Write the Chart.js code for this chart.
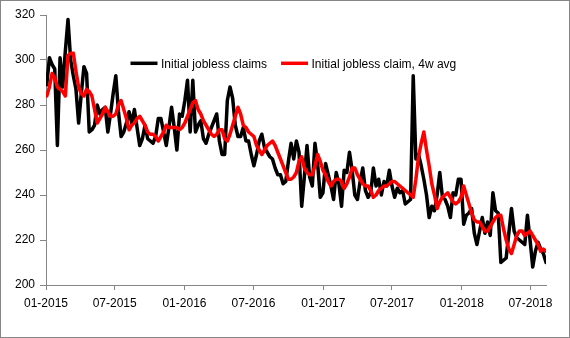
<!DOCTYPE html>
<html>
<head>
<meta charset="utf-8">
<script src="https://cdn.jsdelivr.net/npm/chart.js@4.4.1/dist/chart.umd.min.js"></script>
<style>
  html, body { margin: 0; padding: 0; background: #fff; }
  #wrap { width: 568px; height: 336px; border: 1px solid #868686; }
  canvas { display: block; }
</style>
</head>
<body>
<div id="wrap"><canvas id="chart" width="568" height="336"></canvas></div>
<script>
// weekly series, first week ending 2015-01-03
const firstWeek = '2015-01-03';

// Initial jobless claims (thousands)
const claims = [
  289, 301, 298, 296, 262, 301, 288, 304, 318, 300,
  293, 287, 272, 285, 297, 294, 268, 269, 271, 280,
  276, 278, 279, 268, 276, 285, 293, 277, 266, 268,
  272, 277, 272, 278, 270, 262, 265, 271, 265, 264,
  263, 266, 274, 274, 268, 262, 270, 279, 270, 260,
  276, 275, 282, 291, 268, 291, 268, 271, 273, 265,
  263, 267, 270, 273, 276, 264, 258, 258, 282, 288,
  283, 271, 266, 266, 270, 264, 264, 258, 253, 258,
  264, 267, 261, 259, 257, 256, 252, 249, 249, 245,
  246, 255, 263, 256, 264, 259, 235, 248, 262, 248,
  244, 263, 254, 239, 241, 254, 249, 244, 238, 250,
  245, 235, 251, 250, 259, 251, 240, 238, 246, 252,
  242, 239, 241, 252, 244, 247, 240, 246, 244, 251,
  244, 239, 243, 241, 242, 236, 237, 238, 293, 256,
  258, 253, 247, 240, 230, 235, 233, 240, 250, 239,
  238, 235, 230, 241, 240, 247, 247, 227, 231, 232,
  234, 223, 218, 224, 230, 223, 228, 222, 241, 233,
  232, 210, 211, 212, 223, 234, 224, 221, 220, 219,
  218, 231, 220, 208, 215, 219, 216, 214, 210
];

// Initial jobless claims, 4-week average (thousands)
const claims4w = [
  284, 288, 294, 292, 288, 287, 286, 284, 302, 303,
  303, 295, 288, 285, 284, 287, 286, 284, 278, 272,
  274, 276, 279, 277, 275, 275, 276, 280, 282, 278,
  274, 269, 271, 272, 274, 275, 273, 271, 268, 267,
  267, 266, 264, 266, 268, 271, 270, 270, 270, 270,
  269, 270, 272, 275, 278, 281, 282, 278, 276, 273,
  271, 269, 267, 266, 267, 269, 269, 265, 264, 267,
  271, 275, 279, 276, 271, 270, 268, 267, 266, 262,
  260, 258, 260, 262, 263, 264, 262, 259, 256, 253,
  250, 247, 247, 248, 250, 255, 257, 252, 250, 249,
  249, 253, 258, 255, 251, 249, 246, 244, 246, 247,
  247, 246, 243, 245, 248, 252, 252, 249, 247, 245,
  244, 244, 242, 239, 240, 242, 243, 244, 244, 245,
  246, 246, 245, 244, 243, 242, 241, 240, 239, 247,
  257, 263, 268, 260, 253, 245, 240, 234, 237, 239,
  240, 241, 239, 237, 236, 237, 239, 244, 240, 236,
  232, 229, 228, 228, 226, 224, 224, 226, 228, 230,
  231, 231, 225, 220, 216, 214, 218, 222, 224, 224,
  222, 223, 224, 222, 220, 218, 215, 216, 215, 214
];

const seriesNames = ['Initial jobless claims', 'Initial jobless claim, 4w avg'];
const seriesColors = ['#000000', '#ff0000'];

const tickDates = ['2015-01-01', '2015-07-01', '2016-01-01', '2016-07-01',
                   '2017-01-01', '2017-07-01', '2018-01-01', '2018-07-01'];
const tickLabels = ['01-2015', '07-2015', '01-2016', '07-2016',
                    '01-2017', '07-2017', '01-2018', '07-2018'];
const yTicks = [200, 220, 240, 260, 280, 300, 320];

// dates -> days since 2015-01-01 for the linear x scale
const DAY = 86400000;
const origin = Date.UTC(2015, 0, 1);
const dayOf = s => (Date.parse(s + 'T00:00:00Z') - origin) / DAY;
const start = dayOf(firstWeek);
const weekDays = claims.map((_, i) => start + 7 * i);
const tickDays = tickDates.map(dayOf);

const FONT = { family: '"Liberation Sans", Arial, sans-serif', size: 12 };
const AXIS = '#868686';

// legend drawn inside the plot, like the Excel original
const insideLegend = {
  id: 'insideLegend',
  afterDatasetsDraw(chart, args, opts) {
    const ctx = chart.ctx;
    ctx.save();
    ctx.font = FONT.size + 'px ' + FONT.family;
    ctx.textBaseline = 'middle';
    let x = opts.x;
    chart.data.datasets.forEach(ds => {
      ctx.strokeStyle = ds.borderColor;
      ctx.lineWidth = opts.lineWidth;
      ctx.beginPath();
      ctx.moveTo(x, opts.y);
      ctx.lineTo(x + opts.lineLen, opts.y);
      ctx.stroke();
      x += opts.lineLen + opts.gap;
      ctx.fillStyle = '#000';
      ctx.fillText(ds.label, x, opts.y + 1);
      x += ctx.measureText(ds.label).width + opts.itemGap;
    });
    ctx.restore();
  }
};

new Chart(document.getElementById('chart'), {
  type: 'line',
  data: {
    datasets: [
      {
        label: seriesNames[0],
        data: claims.map((v, i) => ({ x: weekDays[i], y: v })),
        borderColor: seriesColors[0],
        borderWidth: 3.5,
        order: 1
      },
      {
        label: seriesNames[1],
        data: claims4w.map((v, i) => ({ x: weekDays[i], y: v })),
        borderColor: seriesColors[1],
        borderWidth: 3.5,
        order: 0
      }
    ]
  },
  options: {
    responsive: false,
    animation: false,
    events: [],
    elements: {
      point: { radius: 0 },
      line: { tension: 0, borderJoinStyle: 'round', borderCapStyle: 'round' }
    },
    layout: { padding: { top: 14, right: 23, left: 0, bottom: 0 } },
    plugins: {
      legend: { display: false },
      tooltip: { enabled: false },
      insideLegend: { x: 129.5, y: 62.3, lineLen: 27, gap: 3.5, itemGap: 14, lineWidth: 3.5 }
    },
    scales: {
      x: {
        type: 'linear',
        min: 0,
        max: weekDays[weekDays.length - 1],
        afterBuildTicks: s => { s.ticks = tickDays.map(v => ({ value: v })); },
        afterFit: s => { s.height = 52; },
        ticks: {
          autoSkip: false, maxRotation: 0, padding: 6, color: '#000', font: FONT,
          callback: (v, i) => tickLabels[i]
        },
        grid: { drawOnChartArea: false, tickLength: 5, color: AXIS, tickColor: AXIS },
        border: { color: AXIS, width: 1 }
      },
      y: {
        min: 200,
        max: 320,
        afterBuildTicks: s => { s.ticks = yTicks.map(v => ({ value: v })); },
        afterFit: s => { s.width = 45; },
        ticks: { padding: 5, color: '#000', font: FONT },
        grid: { drawOnChartArea: false, tickLength: 6, color: AXIS, tickColor: AXIS },
        border: { color: AXIS, width: 1 }
      }
    }
  },
  plugins: [insideLegend]
});
</script>
</body>
</html>
